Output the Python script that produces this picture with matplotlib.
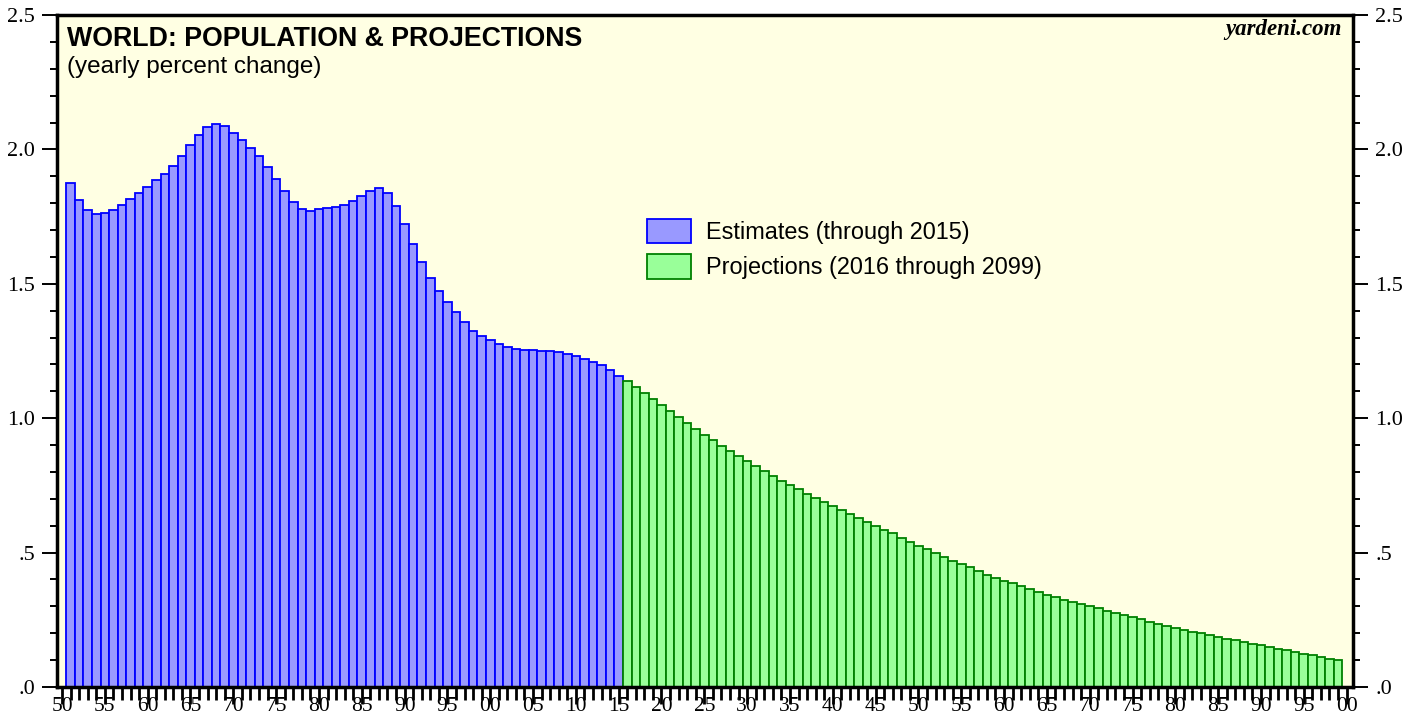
import numpy as np
import matplotlib.pyplot as plt
from matplotlib.ticker import MultipleLocator, FixedLocator, FuncFormatter

# yearly percent change of world population
est_years = np.arange(1951, 2016)
est_values = [1.876, 1.811, 1.774, 1.759, 1.762, 1.774, 1.793, 1.816, 1.839, 1.861,
              1.885, 1.908, 1.938, 1.975, 2.015, 2.053, 2.082, 2.094, 2.087, 2.061,
              2.034, 2.007, 1.974, 1.933, 1.889, 1.845, 1.804, 1.779, 1.772, 1.778,
              1.783, 1.785, 1.793, 1.807, 1.825, 1.844, 1.855, 1.839, 1.790, 1.722,
              1.647, 1.580, 1.521, 1.472, 1.431, 1.394, 1.357, 1.325, 1.305, 1.290,
              1.277, 1.266, 1.259, 1.254, 1.253, 1.250, 1.249, 1.245, 1.238, 1.230,
              1.220, 1.210, 1.197, 1.180, 1.158]

proj_years = np.arange(2016, 2100)
proj_values = [1.137, 1.115, 1.093, 1.071, 1.049, 1.027, 1.003, 0.981, 0.960, 0.937,
               0.917, 0.898, 0.878, 0.858, 0.839, 0.821, 0.802, 0.786, 0.768, 0.752,
               0.735, 0.719, 0.704, 0.689, 0.674, 0.659, 0.644, 0.629, 0.615, 0.600,
               0.585, 0.571, 0.556, 0.541, 0.526, 0.513, 0.499, 0.485, 0.470, 0.458,
               0.446, 0.431, 0.418, 0.407, 0.396, 0.385, 0.374, 0.364, 0.354, 0.344,
               0.335, 0.325, 0.317, 0.308, 0.300, 0.292, 0.283, 0.274, 0.267, 0.260,
               0.252, 0.243, 0.236, 0.228, 0.221, 0.213, 0.206, 0.200, 0.193, 0.186,
               0.180, 0.174, 0.168, 0.161, 0.155, 0.149, 0.143, 0.137, 0.130, 0.124,
               0.118, 0.112, 0.105, 0.099]

x_ticks = np.arange(1950, 2101, 5)
x_labels = ["%02d" % (y % 100) for y in x_ticks]

serif = "Liberation Serif"
sans = "Liberation Sans"

fig = plt.figure(figsize=(14.19, 7.21), dpi=100)
ax = fig.add_axes([0.0404, 0.0472, 0.9131, 0.932])
ax.set_facecolor("#ffffe3")

ax.bar(est_years, est_values, width=1.0, color="#9999ff", edgecolor="#0000ff",
       linewidth=1.3, label="Estimates (through 2015)")
ax.bar(proj_years, proj_values, width=1.0, color="#99ff99", edgecolor="#008000",
       linewidth=1.3, label="Projections (2016 through 2099)")

ax.set_xlim(1949.45, 2100.75)
ax.set_ylim(0, 2.5)

ax.xaxis.set_major_locator(FixedLocator(x_ticks))
ax.set_xticklabels(x_labels, fontfamily=serif, fontsize=15.5)
ax.xaxis.set_minor_locator(MultipleLocator(1))
ax.tick_params(axis="x", which="major", direction="out", length=12, width=2.0, pad=-5)
ax.tick_params(axis="x", which="minor", direction="out", length=9, width=2.0)

ax.yaxis.set_major_locator(MultipleLocator(0.5))
ax.yaxis.set_minor_locator(MultipleLocator(0.1))
ax.yaxis.set_major_formatter(FuncFormatter(lambda v, p: ("%.1f" % v).lstrip("0")))
ax.tick_params(axis="y", which="both", left=True, right=True, labelleft=True,
               labelright=True, direction="out", width=1.4)
ax.tick_params(axis="y", which="major", length=11, pad=5)
ax.tick_params(axis="y", which="minor", length=5)
for lab in ax.get_yticklabels():
    lab.set_fontfamily(serif)
    lab.set_fontsize(16)

for sp in ax.spines.values():
    sp.set_linewidth(2.5)

ax.text(0.0075, 0.954, "WORLD: POPULATION & PROJECTIONS", transform=ax.transAxes,
        fontfamily=sans, fontweight="bold", fontsize=19.3, va="baseline")
ax.text(0.0075, 0.913, "(yearly percent change)", transform=ax.transAxes,
        fontfamily=sans, fontsize=17.5, va="baseline")
ax.text(0.9915, 0.970, "yardeni.com", transform=ax.transAxes, ha="right",
        fontfamily=serif, fontweight="bold", fontstyle="italic", fontsize=16.5,
        va="baseline")

leg = ax.legend(loc="upper left", bbox_to_anchor=(0.455, 0.697), frameon=False,
                prop={"family": sans, "size": 16.9}, borderpad=0, borderaxespad=0,
                handlelength=1.87, handleheight=1.23, handletextpad=0.64,
                labelspacing=0.45)

fig.savefig("out.png", dpi=100)
